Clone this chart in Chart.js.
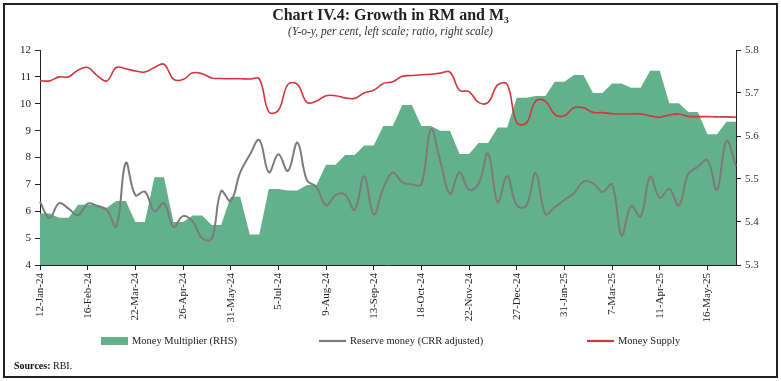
<!DOCTYPE html>
<html><head><meta charset="utf-8">
<script src="https://cdn.jsdelivr.net/npm/chart.js@4.4.1/dist/chart.umd.min.js"></script>
<style>
html,body{margin:0;padding:0;background:#fff;}
#wrap{position:relative;width:781px;height:381px;overflow:hidden;background:#fff;}
#frame{position:absolute;left:3px;top:3px;width:775px;height:375px;box-sizing:border-box;border:2px solid #222;pointer-events:none;}
#src{position:absolute;left:14px;top:360px;font:10px "Liberation Serif",serif;color:#111;}
canvas{position:absolute;left:0;top:0;}
</style></head><body>
<div id="wrap"><canvas id="c" width="781" height="381"></canvas><div id="frame"></div><div id="src"><b>Sources:</b> RBI.</div></div>
<script>
const dates = ['12-Jan-24','19-Jan-24','26-Jan-24','2-Feb-24','9-Feb-24','16-Feb-24','23-Feb-24','1-Mar-24','8-Mar-24','15-Mar-24',
'22-Mar-24','29-Mar-24','5-Apr-24','12-Apr-24','19-Apr-24','26-Apr-24','3-May-24','10-May-24','17-May-24','24-May-24',
'31-May-24','7-Jun-24','14-Jun-24','21-Jun-24','28-Jun-24','5-Jul-24','12-Jul-24','19-Jul-24','26-Jul-24','2-Aug-24',
'9-Aug-24','16-Aug-24','23-Aug-24','30-Aug-24','6-Sep-24','13-Sep-24','20-Sep-24','27-Sep-24','4-Oct-24','11-Oct-24',
'18-Oct-24','25-Oct-24','1-Nov-24','8-Nov-24','15-Nov-24','22-Nov-24','29-Nov-24','6-Dec-24','13-Dec-24','20-Dec-24',
'27-Dec-24','3-Jan-25','10-Jan-25','17-Jan-25','24-Jan-25','31-Jan-25','7-Feb-25','14-Feb-25','21-Feb-25','28-Feb-25',
'7-Mar-25','14-Mar-25','21-Mar-25','28-Mar-25','4-Apr-25','11-Apr-25','18-Apr-25','25-Apr-25','2-May-25','9-May-25',
'16-May-25','23-May-25','30-May-25','6-Jun-25'];

const tickLabels = ['12-Jan-24','16-Feb-24','22-Mar-24','26-Apr-24','31-May-24','5-Jul-24','9-Aug-24','13-Sep-24',
'18-Oct-24','22-Nov-24','27-Dec-24','31-Jan-25','7-Mar-25','11-Apr-25','16-May-25'];

// Money Multiplier (RHS, ratio)
const moneyMultiplier = [5.42,5.42,5.41,5.41,5.44,5.44,5.44,5.433,5.449,5.449,
5.40,5.40,5.504,5.504,5.40,5.40,5.415,5.415,5.393,5.393,
5.459,5.459,5.371,5.371,5.477,5.477,5.473,5.473,5.486,5.486,
5.533,5.533,5.556,5.556,5.578,5.578,5.623,5.623,5.672,5.672,
5.623,5.623,5.612,5.612,5.558,5.558,5.584,5.584,5.62,5.62,
5.689,5.689,5.693,5.693,5.726,5.726,5.742,5.742,5.70,5.70,
5.722,5.722,5.712,5.712,5.752,5.752,5.676,5.676,5.656,5.656,
5.604,5.604,5.633,5.633];

// Reserve money (CRR adjusted), y-o-y per cent
const reserveMoney = [6.35,5.75,6.3,6.1,5.85,6.28,6.2,6.05,5.43,7.8,
6.6,6.73,6.0,6.3,5.42,5.82,5.62,5.0,4.97,6.75,
6.38,7.45,8.1,8.65,7.45,8.12,7.5,8.55,7.15,6.9,
6.22,6.6,6.62,6.05,7.3,5.88,6.85,7.44,7.08,7.0,
7.0,9.05,7.84,6.65,7.45,6.8,7.02,8.15,6.33,7.3,
6.22,6.2,7.42,5.9,6.15,6.42,6.67,7.1,7.05,6.72,
7.0,5.1,6.2,5.8,7.29,6.5,6.83,6.21,7.4,7.65,
7.9,6.8,8.62,7.68];

// Money Supply, y-o-y per cent
const moneySupply = [10.86,10.85,11.0,11.0,11.25,11.35,11.05,10.85,11.35,11.3,
11.22,11.18,11.35,11.47,10.92,10.9,11.15,11.12,10.96,10.94,
10.93,10.93,10.92,10.93,9.7,9.75,10.72,10.72,10.05,10.1,
10.3,10.3,10.22,10.2,10.4,10.5,10.75,10.82,11.02,11.05,
11.08,11.1,11.14,11.18,10.5,10.45,10.05,10.05,10.7,10.72,
9.3,9.28,10.1,10.1,9.6,9.55,9.85,9.85,9.68,9.67,
9.63,9.62,9.62,9.62,9.55,9.5,9.58,9.62,9.53,9.52,
9.52,9.51,9.51,9.5];

const SERIF = '"Liberation Serif", "DejaVu Serif", serif';
const INK = '#222';

// Legend drawn by a small plugin so the items can sit where the reference puts them
const legendPlugin = {
  id: 'placedLegend',
  afterDraw(chart, args, opts) {
    const ctx = chart.ctx;
    ctx.save();
    ctx.font = opts.font;
    ctx.textBaseline = 'middle';
    ctx.fillStyle = opts.color;
    chart.data.datasets.forEach((ds, i) => {
      const x = opts.x[i], y = opts.y;
      if (ds.fill) {
        ctx.fillStyle = ds.backgroundColor;
        ctx.fillRect(x, y - 4, opts.symbolWidth, 8);
      } else {
        ctx.strokeStyle = ds.borderColor;
        ctx.lineWidth = 2.2;
        ctx.beginPath(); ctx.moveTo(x, y); ctx.lineTo(x + opts.symbolWidth, y); ctx.stroke();
      }
      ctx.fillStyle = opts.color;
      ctx.fillText(ds.label, x + opts.symbolWidth + 4, y + 0.5);
    });
    ctx.restore();
  }
};

new Chart(document.getElementById('c'), {
  type: 'line',
  data: {
    labels: dates,
    datasets: [
      {label:'Money Multiplier (RHS)', data: moneyMultiplier, yAxisID:'y1', fill:'start',
       backgroundColor:'rgb(99,177,139)', borderColor:'rgb(99,177,139)', borderWidth:0,
       pointRadius:0, tension:0, order:3},
      {label:'Reserve money (CRR adjusted)', data: reserveMoney, yAxisID:'y',
       borderColor:'#7b7b7b', backgroundColor:'#7b7b7b', borderWidth:2,
       pointRadius:0, tension:0.4, fill:false, order:2},
      {label:'Money Supply', data: moneySupply, yAxisID:'y',
       borderColor:'#d2353c', backgroundColor:'#d2353c', borderWidth:1.6,
       pointRadius:0, tension:0.4, fill:false, order:1}
    ]
  },
  plugins:[legendPlugin],
  options: {
    responsive:false, animation:false,
    layout:{padding:{left:0,right:0,top:0,bottom:55.5}},
    plugins:{
      tooltip:{enabled:false},
      legend:{display:false},
      placedLegend:{x:[101,319,587], y:341, symbolWidth:27, color:INK, font:'10.5px "Liberation Serif", serif'},
      title:{display:true, text:'Chart IV.4: Growth in RM and M\u2083', color:INK,
        font:{family:SERIF,size:16,weight:'bold'}, padding:{top:6,bottom:0}},
      subtitle:{display:true, text:'(Y-o-y, per cent, left scale; ratio, right scale)', color:'#333',
        font:{family:SERIF,size:11.5,style:'italic'}, padding:{top:0,bottom:11}}
    },
    scales:{
      x:{
        offset:false,
        grid:{display:true, drawOnChartArea:false, drawTicks:true, tickLength:5,
          color: ctx => tickLabels.includes(dates[ctx.index]) ? INK : 'rgba(0,0,0,0)'},
        border:{display:true,color:INK,width:1},
        ticks:{autoSkip:false,minRotation:90,maxRotation:90,padding:3,color:INK,
          font:{family:SERIF,size:11},
          callback:(v,i)=> tickLabels.includes(dates[i]) ? dates[i] : ''},
        afterFit: s => { s.height = 60.5; }
      },
      y:{position:'left', min:4, max:12,
        ticks:{stepSize:1,color:INK,padding:4,font:{family:SERIF,size:11}},
        grid:{drawOnChartArea:false,drawTicks:true,tickLength:5,color:INK},
        border:{display:true,color:INK,width:1},
        afterFit: s => { s.width = 40; }
      },
      y1:{position:'right', min:5.3, max:5.8,
        ticks:{stepSize:0.1,color:'#333',padding:4,font:{family:SERIF,size:11},
          callback:v=>v.toFixed(1)},
        grid:{drawOnChartArea:false,drawTicks:true,tickLength:5,color:INK},
        border:{display:true,color:INK,width:1},
        afterFit: s => { s.width = 45; }
      }
    }
  }
});
</script>
</body></html>
